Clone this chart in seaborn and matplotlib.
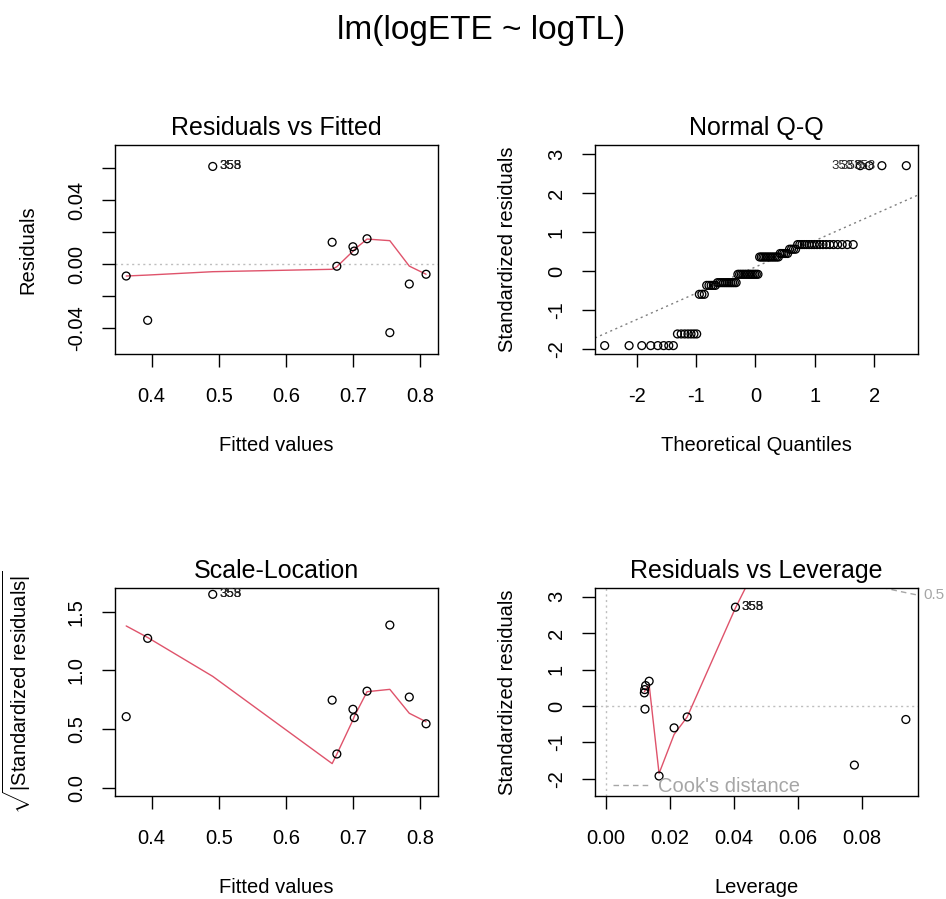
import matplotlib
matplotlib.use("Agg")
import matplotlib.pyplot as plt
from matplotlib.lines import Line2D
import numpy as np
import pandas as pd
import seaborn as sns
from statistics import NormalDist

# ---------------- data ----------------
fitted = [0.362, 0.394, 0.491, 0.669, 0.676, 0.700, 0.702, 0.721, 0.755, 0.784, 0.809]
residuals = [-0.0075, -0.0352, 0.0610, 0.0136, -0.0014, 0.0108, 0.0081, 0.0158, -0.0429, -0.0125, -0.0064]
std_resid = [-0.37, -1.62, 2.71, 0.56, -0.085, 0.45, 0.36, 0.68, -1.92, -0.60, -0.30]
leverage = [0.0938, 0.0777, 0.0405, 0.0124, 0.0122, 0.0121, 0.0120, 0.0135, 0.0166, 0.0213, 0.0254]
counts = [5, 7, 4, 4, 13, 5, 12, 18, 8, 3, 11]
top_ids = ["353", "355", "358"]
top_point = 2  # index of the point carrying the labels

# lowess smoother values at each point
rvf_smooth = [-0.0075, -0.0069, -0.0048, -0.0033, -0.0017, 0.0080, 0.0090, 0.0156, 0.0146, -0.0013, -0.0064]
sl_smooth = [1.378, 1.28, 0.95, 0.21, 0.29, 0.58, 0.61, 0.82, 0.84, 0.637, 0.565]
lev_smooth = [12.0, 9.2, 2.69, 0.45, 0.42, 0.40, 0.39, 0.58, -1.85, -0.78, -0.30]

cook_levels = [0.5, 1.0]
n_coef = 2

title = "lm(logETE ~ logTL)"
captions = ["Residuals vs Fitted", "Normal Q-Q", "Scale-Location", "Residuals vs Leverage"]

# ---------------- styling ----------------
sns.set_theme(style="ticks")
plt.rcParams["font.family"] = ["Liberation Sans", "DejaVu Sans"]
plt.rcParams["mathtext.fontset"] = "custom"
plt.rcParams["mathtext.rm"] = "Liberation Sans"
plt.rcParams["mathtext.it"] = "Liberation Sans:italic"
plt.rcParams["axes.unicode_minus"] = False

RED = "#DF536B"
GRAY = "#BEBEBE"
GRAY50 = "#7F7F7F"
COOK = "#A6A6A6"
FS = 14.5
TFS = 18

fig = plt.figure(figsize=(9.46, 8.99), dpi=100)
W, H = 946.0, 899.0
def pos(l, t, r, b):
    return [l / W, 1 - b / H, (r - l) / W, (b - t) / H]

ax1 = fig.add_axes(pos(115, 145, 438, 354))
ax2 = fig.add_axes(pos(595, 145, 918, 354))
ax3 = fig.add_axes(pos(115, 588, 438, 796))
ax4 = fig.add_axes(pos(595, 588, 918, 796))

pt_kw = dict(s=32, facecolor="none", edgecolor="black", linewidth=0.95, zorder=3)
dot = (0, (1.5, 2.5))

def style(ax, xlim, ylim, xt, xl, yt, yl, xlabel, ylabel, cap, ylab_x=-0.2415):
    ax.set_xlim(xlim)
    ax.set_ylim(ylim)
    ax.set_xticks(xt)
    ax.set_xticklabels(xl)
    ax.set_yticks(yt)
    ax.set_yticklabels(yl)
    for s in ax.spines.values():
        s.set_visible(True)
        s.set_linewidth(1.0)
        s.set_color("black")
    ax.tick_params(axis="both", direction="out", length=9.5, width=1.0, color="black",
                   labelsize=FS, labelcolor="black")
    ax.tick_params(axis="x", pad=14)
    ax.tick_params(axis="y", pad=11.5)
    for lab in ax.get_yticklabels():
        lab.set_rotation(90)
        lab.set_va("center")
    ax.set_xlabel(xlabel, fontsize=FS, color="black")
    ax.set_ylabel(ylabel, fontsize=FS, color="black")
    ax.xaxis.set_label_coords(0.5, -0.392)
    ax.yaxis.set_label_coords(ylab_x, 0.5)
    ax.set_title(cap, fontsize=TFS, pad=7, color="black")
    ax.grid(False)

df = pd.DataFrame({"fitted": fitted, "resid": residuals, "std": std_resid,
                   "lev": leverage, "count": counts,
                   "rvf_s": rvf_smooth, "sl_s": sl_smooth, "lev_s": lev_smooth})
df["sqrt_std"] = np.sqrt(np.abs(df["std"]))

# ---------- 1: Residuals vs Fitted ----------
ax1.axhline(0, color=GRAY, lw=1, ls=dot, zorder=1)
sns.lineplot(data=df, x="fitted", y="rvf_s", ax=ax1, color=RED, lw=1, estimator=None, zorder=2)
sns.scatterplot(data=df, x="fitted", y="resid", ax=ax1, **pt_kw)
for lab in top_ids:
    ax1.annotate(lab, (fitted[top_point], residuals[top_point]), xytext=(4.5, 0),
                 textcoords="offset points", ha="left", va="center", fontsize=9.5)
style(ax1, (0.3453, 0.8268), (-0.05625, 0.0744),
      [0.4, 0.5, 0.6, 0.7, 0.8], ["0.4", "0.5", "0.6", "0.7", "0.8"],
      [-0.04, -0.02, 0.0, 0.02, 0.04, 0.06], ["-0.04", "", "0.00", "", "0.04", ""],
      "Fitted values", "Residuals", captions[0])

# ---------- 2: Normal Q-Q ----------
rows = []
for i, (v, c) in enumerate(zip(std_resid, counts)):
    for k in range(c):
        rows.append((v, i, k))
qq = pd.DataFrame(rows, columns=["std", "pt", "k"])
qq = qq.sort_values("std", kind="mergesort").reset_index(drop=True)
n = len(qq)
nd = NormalDist()
qq["theo"] = [nd.inv_cdf((j + 0.5) / n) for j in range(n)]
yq = np.quantile(qq["std"].to_numpy(), [0.25, 0.75])
xq = np.array([nd.inv_cdf(0.25), nd.inv_cdf(0.75)])
slope = (yq[1] - yq[0]) / (xq[1] - xq[0])
ax2.axline((xq[0], yq[0]), slope=slope, color=GRAY50, lw=1, ls=dot, zorder=1)
sns.scatterplot(data=qq, x="theo", y="std", ax=ax2, **pt_kw)
top_rows = qq[qq["pt"] == top_point].sort_values("k")
for lab, (_, r) in zip(top_ids, top_rows.iterrows()):
    ax2.annotate(lab, (r["theo"], r["std"]), xytext=(-4.5, 0), textcoords="offset points",
                 ha="right", va="center", fontsize=9.5)
style(ax2, (-2.702, 2.736), (-2.136, 3.242),
      [-2, -1, 0, 1, 2], ["-2", "-1", "0", "1", "2"],
      [-2, -1, 0, 1, 2, 3], ["-2", "-1", "0", "1", "2", "3"],
      "Theoretical Quantiles", "Standardized residuals", captions[1])

# ---------- 3: Scale-Location ----------
sns.lineplot(data=df, x="fitted", y="sl_s", ax=ax3, color=RED, lw=1, estimator=None, zorder=2)
sns.scatterplot(data=df, x="fitted", y="sqrt_std", ax=ax3, **pt_kw)
for lab in top_ids:
    ax3.annotate(lab, (fitted[top_point], df["sqrt_std"][top_point]), xytext=(4.5, 0),
                 textcoords="offset points", ha="left", va="center", fontsize=9.5)
style(ax3, (0.3453, 0.8268), (-0.065, 1.70),
      [0.4, 0.5, 0.6, 0.7, 0.8], ["0.4", "0.5", "0.6", "0.7", "0.8"],
      [0.0, 0.5, 1.0, 1.5], ["0.0", "0.5", "1.0", "1.5"],
      "Fitted values", r"$\sqrt{|\mathrm{Standardized\ residuals}|}$", captions[2],
      ylab_x=-0.255)

# ---------- 4: Residuals vs Leverage ----------
xlim4 = (-0.00344, 0.0976)
ax4.axhline(0, color=GRAY, lw=1, ls=dot, zorder=1)
ax4.axvline(0, color=GRAY, lw=1, ls=dot, zorder=1)
hh = np.linspace(min(leverage) / 100, xlim4[1], 101)
for cl in cook_levels:
    cy = np.sqrt(cl * n_coef * (1 - hh) / hh)
    ax4.plot(hh, cy, color=COOK, lw=1, ls=(0, (4, 3)), zorder=1)
    ax4.plot(hh, -cy, color=COOK, lw=1, ls=(0, (4, 3)), zorder=1)
yc = np.sqrt(cook_levels[0] * n_coef * (1 - xlim4[1]) / xlim4[1])
ax4.annotate(f"{cook_levels[0]}", (xlim4[1], yc), xytext=(4, 0), textcoords="offset points",
             ha="left", va="center", fontsize=11, color=COOK, annotation_clip=False)
sns.lineplot(data=df, x="lev", y="lev_s", ax=ax4, color=RED, lw=1, estimator=None, zorder=2)
sns.scatterplot(data=df, x="lev", y="std", ax=ax4, **pt_kw)
for lab in top_ids:
    ax4.annotate(lab, (leverage[top_point], std_resid[top_point]), xytext=(4.5, 0),
                 textcoords="offset points", ha="left", va="center", fontsize=9.5)
ax4.legend(handles=[Line2D([], [], color=COOK, lw=1, ls=(0, (4, 3)))],
           labels=["Cook's distance"], loc="lower left", bbox_to_anchor=(0.031, -0.038),
           borderaxespad=0, frameon=False, handlelength=1.75, handletextpad=0.5,
           fontsize=FS, labelcolor=COOK)
style(ax4, xlim4, (-2.468, 3.236),
      [0.0, 0.02, 0.04, 0.06, 0.08], ["0.00", "0.02", "0.04", "0.06", "0.08"],
      [-2, -1, 0, 1, 2, 3], ["-2", "-1", "0", "1", "2", "3"],
      "Leverage", "Standardized residuals", captions[3])

fig.text(481 / W, 1 - 30 / H, title, ha="center", va="center", fontsize=24, color="black")

fig.savefig("out.png", dpi=100, facecolor="white")
